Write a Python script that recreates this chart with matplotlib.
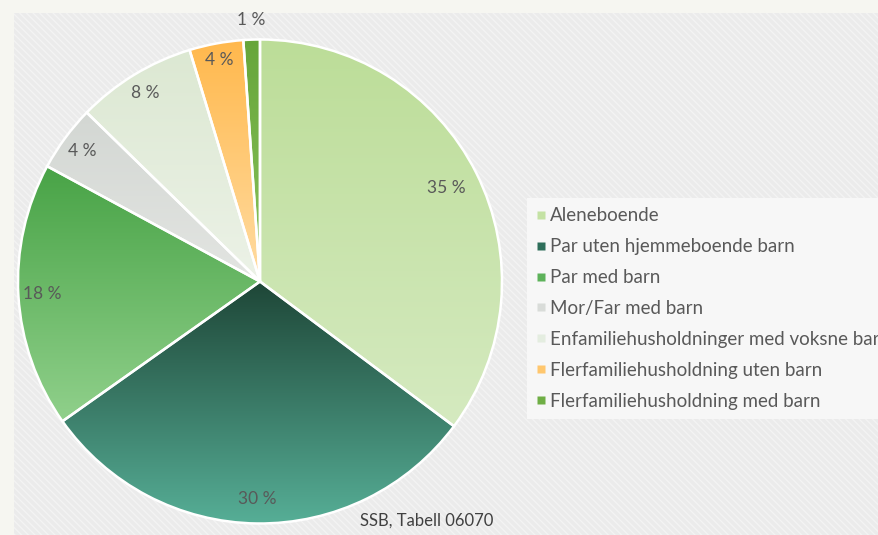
import numpy as np
import matplotlib
matplotlib.use("Agg")
import matplotlib.pyplot as plt
from matplotlib.patches import Rectangle
from matplotlib.lines import Line2D
from matplotlib.colors import LinearSegmentedColormap

plt.rcParams['font.family'] = ['Lato', 'DejaVu Sans']

categories = ["Aleneboende", "Par uten hjemmeboende barn", "Par med barn",
              "Mor/Far med barn", "Enfamiliehusholdninger med voksne barn",
              "Flerfamiliehusholdning uten barn", "Flerfamiliehusholdning med barn"]
shares = [35.2, 30.0, 17.7, 4.4, 8.0, 3.6, 1.1]
# gradient colours per slice (top, bottom)
top_colors = ["#bcdd98", "#1e4637", "#48a346", "#d3d7d3", "#dce8d2", "#ffb84c", "#66a53a"]
bottom_colors = ["#d5eac0", "#56ae96", "#90d08b", "#e3e5e2", "#ecf2e7", "#ffdca2", "#8cc45c"]
legend_colors = ["#c4e2a4", "#2e6e5a", "#5db25a", "#d9dcd9", "#e4ede0", "#ffc76e", "#6fae45"]
label_r = [0.86, 0.90, 0.90, 0.91, 0.91, 0.93, 1.08]

W, H = 879, 535
fig = plt.figure(figsize=(W / 100, H / 100), dpi=100, facecolor="#f6f6f1")

# striped chart area
bg = fig.add_axes([0, 0, 1, 1])
bg.set_xlim(0, W)
bg.set_ylim(H, 0)
bg.axis("off")
bg.add_patch(Rectangle((14, 13), W, H, facecolor="#ebebeb", edgecolor="none"))
plt.rcParams['hatch.linewidth'] = 1.0
bg.add_patch(Rectangle((14, 13), W, H, facecolor="none", edgecolor="#f3f3f3",
                       hatch="\\\\\\\\\\", linewidth=0.0))

cx, cy, r = 260, 281.5, 242
pad = 1.12
ax = fig.add_axes([(cx - r * pad) / W, (H - cy - r * pad) / H, 2 * r * pad / W, 2 * r * pad / H])
ax.set_xlim(-pad, pad)
ax.set_ylim(-pad, pad)
ax.set_aspect("equal")
ax.axis("off")

wedges, _ = ax.pie(shares, startangle=90, counterclock=False, radius=1,
                   wedgeprops=dict(edgecolor="white", linewidth=1.8))

grad = np.linspace(0, 1, 256).reshape(-1, 1)
for i, w in enumerate(wedges):
    w.set_facecolor("none")
    bb = w.get_path().get_extents(w.get_patch_transform())
    cmap = LinearSegmentedColormap.from_list("g%d" % i, [top_colors[i], bottom_colors[i]])
    im = ax.imshow(grad, cmap=cmap, aspect="auto", origin="upper",
                   extent=[bb.x0, bb.x1, bb.y0, bb.y1], zorder=0.5)
    im.set_clip_path(w)
    w.set_zorder(1)
    ang = np.deg2rad((w.theta1 + w.theta2) / 2)
    ax.text(label_r[i] * np.cos(ang), label_r[i] * np.sin(ang), "%.0f %%" % shares[i],
            ha="center", va="center", fontsize=12.5, color="#595959", zorder=3, clip_on=False)
ax.set_xlim(-pad, pad)
ax.set_ylim(-pad, pad)

handles = [Line2D([], [], marker="s", linestyle="none", markersize=5.5,
                  markerfacecolor=c, markeredgecolor="none") for c in legend_colors]
leg = fig.legend(handles, categories, loc="upper left", bbox_to_anchor=(527 / W, 1 - 198 / H),
                 frameon=True, fontsize=13.5, labelcolor="#595959", handlelength=0.45,
                 handletextpad=0.3, labelspacing=0.74, borderpad=0.5, borderaxespad=0,
                 fancybox=False)
leg.get_frame().set_facecolor("#f7f7f7")
leg.get_frame().set_edgecolor("none")
leg.get_frame().set_alpha(1)

fig.text(360 / W, 1 - 521 / H, "SSB, Tabell 06070", fontsize=12, color="#404040",
         ha="left", va="center")

fig.savefig("out.png", dpi=100, facecolor=fig.get_facecolor())
